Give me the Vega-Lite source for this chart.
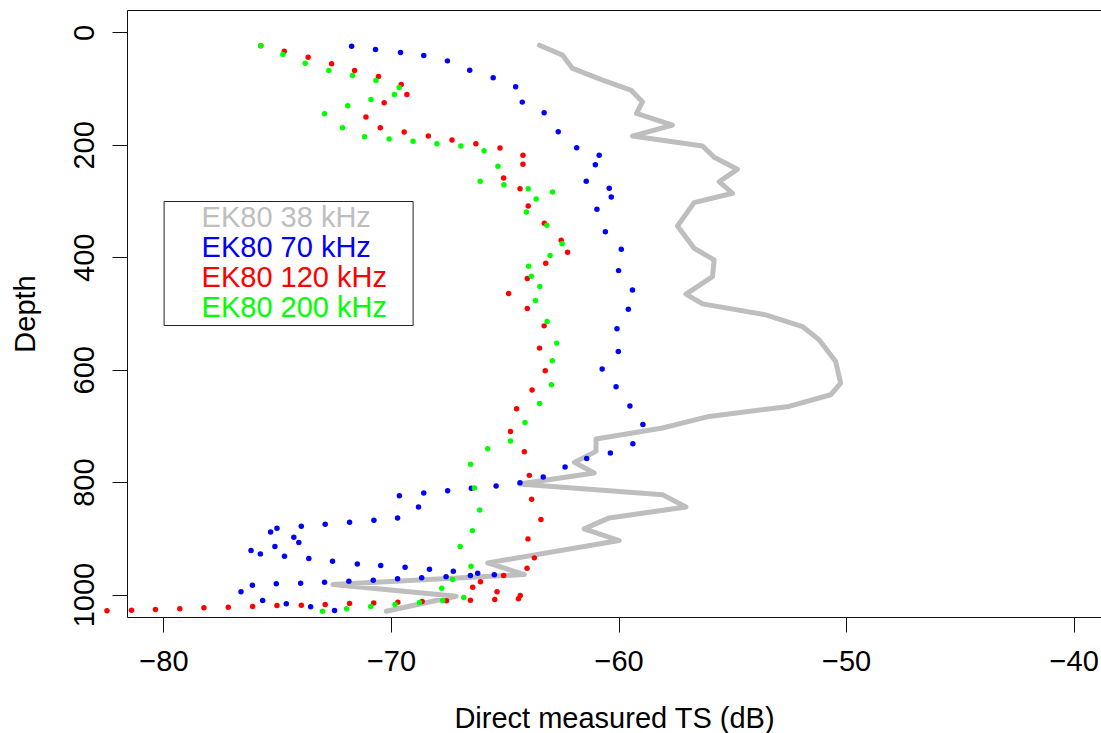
{
  "$schema": "https://vega.github.io/schema/vega-lite/v6.json",
  "width": 974,
  "height": 607,
  "autosize": "none",
  "padding": {"left": 127, "top": 10, "right": 0, "bottom": 116},
  "background": "white",
  "config": {
    "font": "Liberation Sans",
    "view": {"stroke": null},
    "axis": {"domainColor": "#111", "tickColor": "#111", "labelColor": "black", "titleColor": "black", "grid": false, "titleFontWeight": "normal", "labelFontSize": 29, "titleFontSize": 29, "tickSize": 15, "labelFlush": false}
  },
  "datasets": {
    "line": [
      {"i":1,"s":"EK80 38 kHz","x":-63.48,"d":22.6},{"i":2,"s":"EK80 38 kHz","x":-62.46,"d":40.3},{"i":3,"s":"EK80 38 kHz","x":-62.02,"d":64},{"i":4,"s":"EK80 38 kHz","x":-60.70,"d":84.8},{"i":5,"s":"EK80 38 kHz","x":-59.46,"d":102.5},{"i":6,"s":"EK80 38 kHz","x":-58.95,"d":123.3},{"i":7,"s":"EK80 38 kHz","x":-59.21,"d":144},{"i":8,"s":"EK80 38 kHz","x":-57.63,"d":164.7},{"i":9,"s":"EK80 38 kHz","x":-59.39,"d":184.3},{"i":10,"s":"EK80 38 kHz","x":-56.31,"d":202.1},{"i":11,"s":"EK80 38 kHz","x":-55.80,"d":222.1},{"i":12,"s":"EK80 38 kHz","x":-54.78,"d":243.5},{"i":13,"s":"EK80 38 kHz","x":-55.58,"d":265.5},{"i":14,"s":"EK80 38 kHz","x":-54.99,"d":286.1},{"i":15,"s":"EK80 38 kHz","x":-56.68,"d":302.8},{"i":16,"s":"EK80 38 kHz","x":-57.41,"d":344.2},{"i":17,"s":"EK80 38 kHz","x":-56.68,"d":383.9},{"i":18,"s":"EK80 38 kHz","x":-55.80,"d":404.7},{"i":19,"s":"EK80 38 kHz","x":-55.87,"d":434.3},{"i":20,"s":"EK80 38 kHz","x":-57.04,"d":465.6},{"i":21,"s":"EK80 38 kHz","x":-56.31,"d":482.9},{"i":22,"s":"EK80 38 kHz","x":-53.53,"d":502.4},{"i":23,"s":"EK80 38 kHz","x":-51.92,"d":523.2},{"i":24,"s":"EK80 38 kHz","x":-51.19,"d":546.8},{"i":25,"s":"EK80 38 kHz","x":-50.46,"d":585.4},{"i":26,"s":"EK80 38 kHz","x":-50.24,"d":623.8},{"i":27,"s":"EK80 38 kHz","x":-50.68,"d":644.6},{"i":28,"s":"EK80 38 kHz","x":-52.51,"d":665.4},{"i":29,"s":"EK80 38 kHz","x":-56.02,"d":683.1},{"i":30,"s":"EK80 38 kHz","x":-58.07,"d":703.8},{"i":31,"s":"EK80 38 kHz","x":-60.99,"d":723.3},{"i":32,"s":"EK80 38 kHz","x":-60.99,"d":745.3},{"i":33,"s":"EK80 38 kHz","x":-61.94,"d":764.9},{"i":34,"s":"EK80 38 kHz","x":-61.07,"d":783.7},{"i":35,"s":"EK80 38 kHz","x":-64.36,"d":803.3},{"i":36,"s":"EK80 38 kHz","x":-58.07,"d":822.3},{"i":37,"s":"EK80 38 kHz","x":-57.04,"d":844.2},{"i":38,"s":"EK80 38 kHz","x":-60.41,"d":863.7},{"i":39,"s":"EK80 38 kHz","x":-61.51,"d":883.2},{"i":40,"s":"EK80 38 kHz","x":-59.97,"d":904},{"i":41,"s":"EK80 38 kHz","x":-65.75,"d":943.7},{"i":42,"s":"EK80 38 kHz","x":-64.14,"d":964.5},{"i":43,"s":"EK80 38 kHz","x":-72.55,"d":982.2},{"i":44,"s":"EK80 38 kHz","x":-67.14,"d":1003},{"i":45,"s":"EK80 38 kHz","x":-70.21,"d":1029.7}
    ],
    "pts": [
      {"s":"EK80 70 kHz","x":-71.73,"d":24.3},{"s":"EK80 70 kHz","x":-70.68,"d":30.2},{"s":"EK80 70 kHz","x":-69.58,"d":35.5},{"s":"EK80 70 kHz","x":-68.56,"d":40.9},{"s":"EK80 70 kHz","x":-67.52,"d":50.5},{"s":"EK80 70 kHz","x":-66.54,"d":67},{"s":"EK80 70 kHz","x":-65.51,"d":80.7},{"s":"EK80 70 kHz","x":-64.52,"d":96.7},{"s":"EK80 70 kHz","x":-64.23,"d":123.9},{"s":"EK80 70 kHz","x":-63.27,"d":142.9},{"s":"EK80 70 kHz","x":-62.65,"d":176.6},{"s":"EK80 70 kHz","x":-61.84,"d":205.1},{"s":"EK80 70 kHz","x":-60.85,"d":218.6},{"s":"EK80 70 kHz","x":-61.02,"d":235.3},{"s":"EK80 70 kHz","x":-61.42,"d":264.8},{"s":"EK80 70 kHz","x":-60.41,"d":277.2},{"s":"EK80 70 kHz","x":-60.32,"d":292.7},{"s":"EK80 70 kHz","x":-60.95,"d":314.6},{"s":"EK80 70 kHz","x":-60.58,"d":354.4},{"s":"EK80 70 kHz","x":-59.88,"d":385.6},{"s":"EK80 70 kHz","x":-60.00,"d":423.7},{"s":"EK80 70 kHz","x":-59.39,"d":458},{"s":"EK80 70 kHz","x":-59.57,"d":492.3},{"s":"EK80 70 kHz","x":-60.07,"d":527.3},{"s":"EK80 70 kHz","x":-60.01,"d":567.6},{"s":"EK80 70 kHz","x":-60.72,"d":598.9},{"s":"EK80 70 kHz","x":-60.11,"d":630.4},{"s":"EK80 70 kHz","x":-59.50,"d":664.7},{"s":"EK80 70 kHz","x":-58.93,"d":697.3},{"s":"EK80 70 kHz","x":-59.37,"d":731.6},{"s":"EK80 70 kHz","x":-60.36,"d":748.2},{"s":"EK80 70 kHz","x":-61.40,"d":757.8},{"s":"EK80 70 kHz","x":-62.35,"d":773.1},{"s":"EK80 70 kHz","x":-63.31,"d":790.8},{"s":"EK80 70 kHz","x":-64.33,"d":801},{"s":"EK80 70 kHz","x":-65.38,"d":806.8},{"s":"EK80 70 kHz","x":-66.47,"d":811},{"s":"EK80 70 kHz","x":-67.51,"d":815.2},{"s":"EK80 70 kHz","x":-68.56,"d":819.3},{"s":"EK80 70 kHz","x":-69.63,"d":824.1},{"s":"EK80 70 kHz","x":-68.79,"d":844.2},{"s":"EK80 70 kHz","x":-69.71,"d":863.7},{"s":"EK80 70 kHz","x":-70.75,"d":868},{"s":"EK80 70 kHz","x":-71.82,"d":871.5},{"s":"EK80 70 kHz","x":-72.89,"d":875},{"s":"EK80 70 kHz","x":-73.94,"d":878.6},{"s":"EK80 70 kHz","x":-75.01,"d":882.2},{"s":"EK80 70 kHz","x":-75.29,"d":888.6},{"s":"EK80 70 kHz","x":-74.27,"d":898.2},{"s":"EK80 70 kHz","x":-74.05,"d":907.6},{"s":"EK80 70 kHz","x":-75.10,"d":914.7},{"s":"EK80 70 kHz","x":-76.15,"d":921.8},{"s":"EK80 70 kHz","x":-75.74,"d":927.7},{"s":"EK80 70 kHz","x":-74.68,"d":932},{"s":"EK80 70 kHz","x":-73.61,"d":936},{"s":"EK80 70 kHz","x":-72.57,"d":940.8},{"s":"EK80 70 kHz","x":-71.48,"d":945.5},{"s":"EK80 70 kHz","x":-70.45,"d":948.5},{"s":"EK80 70 kHz","x":-69.38,"d":951.5},{"s":"EK80 70 kHz","x":-68.31,"d":955},{"s":"EK80 70 kHz","x":-67.26,"d":958.6},{"s":"EK80 70 kHz","x":-66.19,"d":962.1},{"s":"EK80 70 kHz","x":-65.46,"d":965},{"s":"EK80 70 kHz","x":-66.51,"d":966.2},{"s":"EK80 70 kHz","x":-67.58,"d":968.5},{"s":"EK80 70 kHz","x":-68.65,"d":970.3},{"s":"EK80 70 kHz","x":-69.71,"d":972.1},{"s":"EK80 70 kHz","x":-70.78,"d":974.6},{"s":"EK80 70 kHz","x":-71.85,"d":976.4},{"s":"EK80 70 kHz","x":-72.92,"d":978.1},{"s":"EK80 70 kHz","x":-73.97,"d":979.9},{"s":"EK80 70 kHz","x":-75.04,"d":981},{"s":"EK80 70 kHz","x":-76.09,"d":983.5},{"s":"EK80 70 kHz","x":-76.59,"d":995.2},{"s":"EK80 70 kHz","x":-75.64,"d":1010.7},{"s":"EK80 70 kHz","x":-74.60,"d":1016.5},{"s":"EK80 70 kHz","x":-73.53,"d":1021.9},{"s":"EK80 70 kHz","x":-72.48,"d":1028.4},
      {"s":"EK80 120 kHz","x":-75.72,"d":23.8},{"s":"EK80 120 kHz","x":-74.69,"d":33.2},{"s":"EK80 120 kHz","x":-73.64,"d":43.9},{"s":"EK80 120 kHz","x":-72.61,"d":55.8},{"s":"EK80 120 kHz","x":-71.60,"d":67.5},{"s":"EK80 120 kHz","x":-70.55,"d":78.2},{"s":"EK80 120 kHz","x":-69.55,"d":92.4},{"s":"EK80 120 kHz","x":-69.30,"d":110.2},{"s":"EK80 120 kHz","x":-70.30,"d":125.1},{"s":"EK80 120 kHz","x":-71.10,"d":150.5},{"s":"EK80 120 kHz","x":-70.47,"d":169.5},{"s":"EK80 120 kHz","x":-69.42,"d":177.2},{"s":"EK80 120 kHz","x":-68.36,"d":184.3},{"s":"EK80 120 kHz","x":-67.32,"d":191.4},{"s":"EK80 120 kHz","x":-66.27,"d":198},{"s":"EK80 120 kHz","x":-65.21,"d":205.6},{"s":"EK80 120 kHz","x":-64.20,"d":218.6},{"s":"EK80 120 kHz","x":-64.20,"d":234.6},{"s":"EK80 120 kHz","x":-65.05,"d":258.9},{"s":"EK80 120 kHz","x":-64.33,"d":277.9},{"s":"EK80 120 kHz","x":-63.97,"d":308.7},{"s":"EK80 120 kHz","x":-63.26,"d":339.4},{"s":"EK80 120 kHz","x":-62.52,"d":369.7},{"s":"EK80 120 kHz","x":-62.24,"d":391},{"s":"EK80 120 kHz","x":-63.20,"d":410.5},{"s":"EK80 120 kHz","x":-64.01,"d":437.9},{"s":"EK80 120 kHz","x":-64.83,"d":464.5},{"s":"EK80 120 kHz","x":-64.01,"d":491.2},{"s":"EK80 120 kHz","x":-63.27,"d":522},{"s":"EK80 120 kHz","x":-63.47,"d":561.6},{"s":"EK80 120 kHz","x":-63.22,"d":601.9},{"s":"EK80 120 kHz","x":-63.80,"d":636.2},{"s":"EK80 120 kHz","x":-64.48,"d":669.4},{"s":"EK80 120 kHz","x":-64.75,"d":709.8},{"s":"EK80 120 kHz","x":-64.14,"d":745.9},{"s":"EK80 120 kHz","x":-63.92,"d":788},{"s":"EK80 120 kHz","x":-63.82,"d":830.6},{"s":"EK80 120 kHz","x":-63.41,"d":866.7},{"s":"EK80 120 kHz","x":-63.98,"d":901},{"s":"EK80 120 kHz","x":-63.70,"d":934.8},{"s":"EK80 120 kHz","x":-64.02,"d":953.3},{"s":"EK80 120 kHz","x":-65.05,"d":966.2},{"s":"EK80 120 kHz","x":-66.07,"d":977.4},{"s":"EK80 120 kHz","x":-66.41,"d":987},{"s":"EK80 120 kHz","x":-65.34,"d":995.2},{"s":"EK80 120 kHz","x":-64.32,"d":1001.8},{"s":"EK80 120 kHz","x":-64.40,"d":1007.6},{"s":"EK80 120 kHz","x":-65.44,"d":1008.9},{"s":"EK80 120 kHz","x":-66.51,"d":1010.1},{"s":"EK80 120 kHz","x":-67.56,"d":1011.2},{"s":"EK80 120 kHz","x":-68.63,"d":1012.4},{"s":"EK80 120 kHz","x":-69.70,"d":1013.7},{"s":"EK80 120 kHz","x":-70.76,"d":1014.9},{"s":"EK80 120 kHz","x":-71.82,"d":1016},{"s":"EK80 120 kHz","x":-72.89,"d":1017.6},{"s":"EK80 120 kHz","x":-73.94,"d":1019},{"s":"EK80 120 kHz","x":-75.01,"d":1019.6},{"s":"EK80 120 kHz","x":-76.08,"d":1021.3},{"s":"EK80 120 kHz","x":-77.15,"d":1022.6},{"s":"EK80 120 kHz","x":-78.22,"d":1023.7},{"s":"EK80 120 kHz","x":-79.28,"d":1025.4},{"s":"EK80 120 kHz","x":-80.35,"d":1026.7},{"s":"EK80 120 kHz","x":-81.40,"d":1027.9},{"s":"EK80 120 kHz","x":-82.48,"d":1029},
      {"s":"EK80 200 kHz","x":-75.72,"d":23.8},{"s":"EK80 200 kHz","x":-74.75,"d":39.1},{"s":"EK80 200 kHz","x":-73.77,"d":54.6},{"s":"EK80 200 kHz","x":-72.73,"d":67.5},{"s":"EK80 200 kHz","x":-71.69,"d":76.4},{"s":"EK80 200 kHz","x":-70.66,"d":85.3},{"s":"EK80 200 kHz","x":-69.64,"d":97.7},{"s":"EK80 200 kHz","x":-69.85,"d":110.2},{"s":"EK80 200 kHz","x":-70.88,"d":119.1},{"s":"EK80 200 kHz","x":-71.90,"d":130.4},{"s":"EK80 200 kHz","x":-72.92,"d":144.7},{"s":"EK80 200 kHz","x":-72.13,"d":169.5},{"s":"EK80 200 kHz","x":-71.16,"d":185.5},{"s":"EK80 200 kHz","x":-70.08,"d":189.6},{"s":"EK80 200 kHz","x":-69.03,"d":193.7},{"s":"EK80 200 kHz","x":-67.98,"d":198},{"s":"EK80 200 kHz","x":-66.93,"d":202.1},{"s":"EK80 200 kHz","x":-65.91,"d":210.4},{"s":"EK80 200 kHz","x":-65.30,"d":238.1},{"s":"EK80 200 kHz","x":-66.08,"d":264.8},{"s":"EK80 200 kHz","x":-65.04,"d":270.8},{"s":"EK80 200 kHz","x":-63.97,"d":277.9},{"s":"EK80 200 kHz","x":-62.90,"d":283.8},{"s":"EK80 200 kHz","x":-63.62,"d":296.2},{"s":"EK80 200 kHz","x":-64.05,"d":319.4},{"s":"EK80 200 kHz","x":-63.15,"d":343},{"s":"EK80 200 kHz","x":-62.48,"d":375.7},{"s":"EK80 200 kHz","x":-63.01,"d":397},{"s":"EK80 200 kHz","x":-63.95,"d":415.9},{"s":"EK80 200 kHz","x":-63.83,"d":433.6},{"s":"EK80 200 kHz","x":-63.46,"d":452.1},{"s":"EK80 200 kHz","x":-63.65,"d":477},{"s":"EK80 200 kHz","x":-63.14,"d":514.3},{"s":"EK80 200 kHz","x":-62.72,"d":552.7},{"s":"EK80 200 kHz","x":-62.91,"d":584.1},{"s":"EK80 200 kHz","x":-62.95,"d":626.8},{"s":"EK80 200 kHz","x":-63.47,"d":660},{"s":"EK80 200 kHz","x":-64.11,"d":693.8},{"s":"EK80 200 kHz","x":-64.75,"d":726.9},{"s":"EK80 200 kHz","x":-65.75,"d":740.5},{"s":"EK80 200 kHz","x":-66.50,"d":768.4},{"s":"EK80 200 kHz","x":-66.33,"d":810.4},{"s":"EK80 200 kHz","x":-66.10,"d":849.5},{"s":"EK80 200 kHz","x":-66.42,"d":886.3},{"s":"EK80 200 kHz","x":-66.96,"d":914.7},{"s":"EK80 200 kHz","x":-66.48,"d":949.7},{"s":"EK80 200 kHz","x":-67.29,"d":973.3},{"s":"EK80 200 kHz","x":-67.77,"d":988.8},{"s":"EK80 200 kHz","x":-66.80,"d":1005.3},{"s":"EK80 200 kHz","x":-67.73,"d":1010.7},{"s":"EK80 200 kHz","x":-68.75,"d":1014.2},{"s":"EK80 200 kHz","x":-69.82,"d":1017.8},{"s":"EK80 200 kHz","x":-70.89,"d":1021.3},{"s":"EK80 200 kHz","x":-71.95,"d":1025.4},{"s":"EK80 200 kHz","x":-73.01,"d":1029.7}
    ]
  },
  "layer": [
    {
      "data": {"name": "line"},
      "mark": {"type": "line", "strokeWidth": 5, "strokeJoin": "round", "strokeCap": "round"},
      "encoding": {
        "x": {"field": "x", "type": "quantitative", "scale": {"domain": [-81.6, -38.8], "nice": false, "zero": false},
          "axis": {"orient": "bottom", "values": [-80, -70, -60, -50, -40], "title": "Direct measured TS (dB)", "labelBaseline": "alphabetic", "labelPadding": 38.5, "titleBaseline": "alphabetic", "titleX": 487, "titleY": 110.7, "titleAlign": "center"}},
        "y": {"field": "d", "type": "quantitative", "scale": {"domain": [-40, 1040], "nice": false, "zero": false, "reverse": true},
          "axis": {"values": [0, 200, 400, 600, 800, 1000], "format": "d", "title": "Depth", "labelAngle": -90, "labelAlign": "center", "labelBaseline": "alphabetic", "labelPadding": 19, "titleAngle": -90, "titleBaseline": "alphabetic", "titleAlign": "center", "titleX": -93, "titleY": 303.5}},
        "order": {"field": "i", "type": "quantitative"},
        "color": {"field": "s", "type": "nominal",
          "scale": {"domain": ["EK80 38 kHz", "EK80 70 kHz", "EK80 120 kHz", "EK80 200 kHz"], "range": ["#BEBEBE", "#0000FF", "#FF0000", "#00FF00"]},
          "legend": {"orient": "none", "legendX": 36.6, "legendY": 191, "title": "M", "titleOrient": "right", "titleOpacity": 0, "titleFontSize": 25, "titlePadding": 3, "strokeColor": "#222", "fillColor": "white", "padding": 2, "labelFontSize": 29, "labelFont": "Liberation Sans", "symbolOpacity": 0, "symbolStrokeWidth": 0, "symbolSize": 100, "labelOffset": 7, "rowPadding": 0, "labelLimit": 400,
            "encode": {"labels": {"update": {"fill": {"scale": "color", "field": "value"}, "lineHeight": {"value": 25}}}}}}
      }
    },
    {
      "data": {"name": "pts"},
      "mark": {"type": "circle", "size": 30, "opacity": 1},
      "encoding": {
        "x": {"field": "x", "type": "quantitative", "scale": {"domain": [-81.6, -38.8], "nice": false, "zero": false},
          "axis": {"orient": "top", "ticks": false, "labels": false, "title": null, "domain": true}},
        "y": {"field": "d", "type": "quantitative"},
        "color": {"field": "s", "type": "nominal"}
      }
    }
  ],
  "resolve": {"axis": {"x": "independent"}}
}
